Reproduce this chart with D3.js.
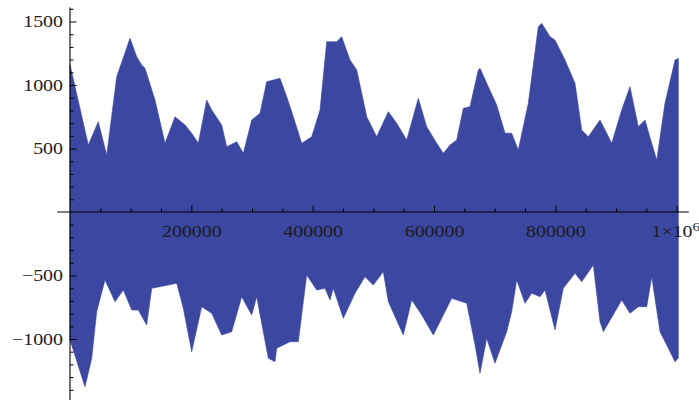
<!DOCTYPE html>
<html>
<head>
<meta charset="utf-8">
<script src="https://cdn.jsdelivr.net/npm/d3@7/dist/d3.min.js"></script>
<style>
  html, body { margin: 0; padding: 0; background: #fff; }
  svg { display: block; }
  .lbl { font-family: "Liberation Serif", "Times New Roman", serif; font-size: 17px; fill: #1c1c1c; }
</style>
</head>
<body>
<svg id="chart" width="699" height="400"></svg>
<script>
// Upper envelope of the signal (sample index, amplitude)
const topX = [0, 30200, 46600, 60500, 77000, 98900, 109900, 118200, 123600, 140100, 156600, 173100, 189600, 200600, 211500, 225300, 233600, 250000, 258300, 274800, 285700, 299500, 313200, 324200, 335100, 346100, 357200, 368100, 381900, 398400, 412100, 423100, 439600, 447800, 461500, 472600, 489100, 505500, 524700, 538500, 555000, 574100, 587900, 604400, 615300, 626400, 637400, 648300, 659300, 673000, 675800, 689500, 703300, 717000, 728000, 738900, 755400, 771900, 777500, 791200, 799400, 815900, 832400, 843400, 854300, 873600, 892900, 909300, 923000, 936700, 947800, 958800, 967100, 980700, 997200, 1002700];
const topV = [1160, 528, 711, 449, 1065, 1368, 1223, 1157, 1131, 882, 541, 750, 685, 620, 541, 882, 803, 685, 514, 554, 462, 724, 777, 1026, 1039, 1053, 908, 750, 541, 593, 803, 1341, 1341, 1380, 1197, 1118, 750, 593, 790, 698, 567, 895, 672, 541, 462, 528, 567, 817, 829, 1118, 1131, 987, 843, 620, 620, 488, 856, 1459, 1486, 1380, 1354, 1197, 1013, 646, 593, 724, 541, 803, 987, 672, 724, 541, 409, 856, 1197, 1210];

// Lower envelope of the signal
const botX = [0, 24700, 35800, 44000, 57700, 74200, 87900, 101700, 112600, 126400, 134700, 148300, 175900, 186800, 200600, 217100, 233600, 250000, 266500, 283000, 299500, 307700, 326900, 337900, 340700, 362600, 376300, 390100, 406600, 420300, 428600, 434000, 450500, 469800, 486200, 499900, 516400, 524700, 549400, 563200, 579700, 598800, 612700, 629100, 653900, 667600, 675800, 686800, 700500, 719800, 728000, 736300, 750000, 761000, 774700, 783000, 799400, 813100, 832400, 843400, 862600, 873600, 879100, 898300, 909300, 923000, 936700, 950600, 958800, 972500, 983500, 997200, 1002700];
const botV = [-1008, -1376, -1152, -785, -535, -706, -614, -772, -772, -890, -601, -588, -562, -758, -1100, -746, -798, -969, -943, -667, -811, -667, -1152, -1179, -1073, -1021, -1021, -496, -614, -601, -693, -601, -837, -640, -509, -575, -470, -706, -969, -693, -811, -969, -837, -680, -719, -1047, -1270, -994, -1191, -943, -785, -535, -719, -640, -667, -614, -929, -601, -483, -549, -417, -864, -943, -785, -693, -798, -746, -746, -509, -943, -1047, -1179, -1150];

// Ticks
const xMajor = [200000, 400000, 600000, 800000, 1000000];
const xMajorLabels = ["200000", "400000", "600000", "800000", "1×10^6"];
const xMinor = [50000, 100000, 150000, 250000, 300000, 350000, 450000, 500000, 550000, 650000, 700000, 750000, 850000, 900000, 950000];
const yMajor = [-1000, -500, 500, 1000, 1500];
const yMajorLabels = ["−1000", "−500", "500", "1000", "1500"];
const yMinor = [-1400, -1300, -1200, -1100, -900, -800, -700, -600, -400, -300, -200, -100, 100, 200, 300, 400, 600, 700, 800, 900, 1100, 1200, 1300, 1400, 1600];
const xAxisExtent = [-21000, 1020000];
const yAxisExtent = [-1480, 1610];

const svg = d3.select("#chart");
const x = d3.scaleLinear().domain([0, 1000000]).range([70, 676.7]);
const y = d3.scaleLinear().domain([0, 1500]).range([212, 21.5]);

// Filled signal
const pts = topX.map((d, i) => [x(d), y(topV[i])])
  .concat(botX.map((d, i) => [x(d), y(botV[i])]).reverse());
svg.append("path")
  .attr("d", d3.line()(pts) + "Z")
  .attr("fill", "#3b47a0")
  .attr("stroke", "#3b47a0")
  .attr("stroke-width", 0.6);

// Axis lines
svg.append("line")
  .attr("x1", x(xAxisExtent[0])).attr("x2", x(xAxisExtent[1]))
  .attr("y1", y(0)).attr("y2", y(0))
  .attr("stroke", "#000").attr("stroke-width", 1.1);
svg.append("line")
  .attr("x1", x(0)).attr("x2", x(0))
  .attr("y1", y(yAxisExtent[1])).attr("y2", y(yAxisExtent[0]))
  .attr("stroke", "#000").attr("stroke-width", 1.1);

// X axis ticks (pointing up)
const gxMinor = svg.append("g").attr("transform", `translate(0,${y(0)})`)
  .call(d3.axisBottom(x).tickValues(xMinor).tickSizeInner(-3.5).tickSizeOuter(0).tickFormat(""));
const gxMajor = svg.append("g").attr("transform", `translate(0,${y(0)})`)
  .call(d3.axisBottom(x).tickValues(xMajor).tickSizeInner(-6.5).tickSizeOuter(0).tickPadding(12.5)
    .tickFormat((d, i) => xMajorLabels[i]));

// Y axis ticks (pointing right)
const gyMinor = svg.append("g").attr("transform", `translate(${x(0)},0)`)
  .call(d3.axisLeft(y).tickValues(yMinor).tickSizeInner(-3.5).tickSizeOuter(0).tickFormat(""));
const gyMajor = svg.append("g").attr("transform", `translate(${x(0)},0)`)
  .call(d3.axisLeft(y).tickValues(yMajor).tickSizeInner(-6.5).tickSizeOuter(0).tickPadding(6)
    .tickFormat((d, i) => yMajorLabels[i]));

[gxMinor, gxMajor, gyMinor, gyMajor].forEach(g => {
  g.select(".domain").remove();
  g.selectAll(".tick line").attr("stroke", "#000").attr("stroke-width", 1);
});

gxMajor.selectAll("text").attr("class", "lbl").attr("font-family", null).attr("font-size", null)
  .attr("transform", "scale(1.17,1)");
gyMajor.selectAll("text").attr("class", "lbl").attr("font-family", null).attr("font-size", null)
  .attr("transform", "scale(1.17,1)");

// Superscript for the last x label
gxMajor.selectAll("text").filter(d => xMajorLabels[xMajor.indexOf(d)].includes("^")).each(function (d) {
  const t = d3.select(this);
  const parts = xMajorLabels[xMajor.indexOf(d)].split("^");
  t.text(null).attr("text-anchor", "start").attr("x", -22);
  t.append("tspan").text(parts[0]);
  t.append("tspan").attr("dy", "-0.45em").attr("font-size", "13px").text(parts[1]);
});
</script>
</body>
</html>
